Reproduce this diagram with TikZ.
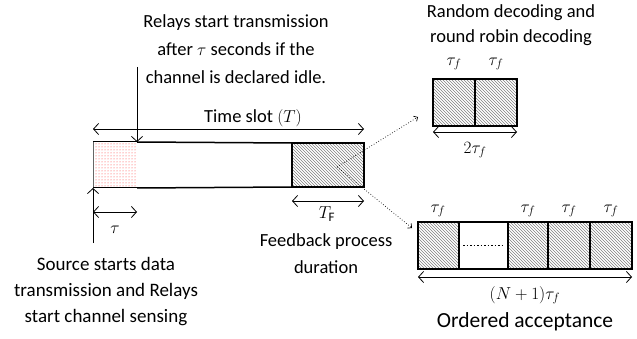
\documentclass[tikz,border=0pt]{standalone}
\usepackage{fontspec}
\setmainfont{Carlito}
\usetikzlibrary{arrows.meta,patterns,positioning}

\begin{document}
\begin{tikzpicture}[x=1pt,y=-1pt,>={Straight Barb[length=5pt,width=11pt]},every node/.style={inner sep=0,outer sep=0},lbl/.style={align=center,font=\fontsize{18.5}{28}\selectfont},hatch/.style={draw,line width=1.2pt,pattern=north west lines,pattern color=black!50,minimum height=47pt,anchor=north west},blank/.style={draw,line width=1.2pt,fill=white,minimum height=47pt,anchor=north west},dim/.style={<->,line width=0.8pt},pointer/.style={->,line width=0.8pt},zoomline/.style={->,dotted,line width=0.7pt,>={Straight Barb[length=3pt,width=6pt]}}]

\useasboundingbox (0,0) rectangle (637,339);

% time slot
\node [draw=black!60,line width=1pt,pattern=dots,pattern color=red!80,minimum width=44pt,minimum height=46pt,anchor=north west] (src) at (93,142) {};
\node [blank,minimum width=155pt,minimum height=46pt,draw=none] (slot) at (137,142) {};
\node [hatch,minimum width=72pt,minimum height=44pt,line width=1.5pt] (fb) at (292,143) {};
\draw [line width=1.5pt] (src.north east) -- (fb.north west);
\draw [line width=1.5pt] (src.south east) -- (fb.south west);
\draw [line width=1pt] (src.north west) -- (src.north east);
\draw [line width=1pt] (src.south west) -- (src.south east);

% random / round robin
\node [hatch,minimum width=42pt] (rr1) at (433,79) {};
\node [hatch,minimum width=42pt] (rr2) at (rr1.north east) {};
\draw [line width=2.2pt] (rr1.north west) rectangle (rr2.south east);

% ordered acceptance
\node [hatch,minimum width=41pt] (oa1) at (418,222) {};
\node [blank,minimum width=49pt] (oa2) at (oa1.north east) {};
\node [hatch,minimum width=40pt] (oa3) at (oa2.north east) {};
\node [hatch,minimum width=42pt] (oa4) at (oa3.north east) {};
\node [hatch,minimum width=42pt] (oa5) at (oa4.north east) {};
\draw [line width=2.5pt] (oa1.north west) rectangle (oa5.south east);
\draw [line width=1.5pt,dotted] ([xshift=4pt]oa2.west) -- ([xshift=-4pt]oa2.east);

% labels
\node [lbl] (relays) at (236,49) {Relays start transmission\\after $\tau$ seconds if the\\channel is declared idle.};
\node [lbl] (tslot) at (253,118) {Time slot $(T)$};
\node [lbl] (tau) at (115,230) {$\tau$};
\node [lbl,font=\fontsize{19}{26}\selectfont] (source) at (106,292) {Source starts data\\transmission and Relays\\start channel sensing};
\node [lbl] (tf) at (327,214) {$T_{\mathrm{F}}$};
\node [lbl,font=\fontsize{18.5}{27}\selectfont] (feedback) at (326,254) {Feedback process\\duration};
\node [lbl,font=\fontsize{18.5}{25}\selectfont] (rrtitle) at (511,25) {Random decoding and\\round robin decoding};
\node [lbl] (rrt1) at (454,64) {$\tau_f$};
\node [lbl] (rrt2) at (496,64) {$\tau_f$};
\node [lbl] (rrsum) at (475,150) {$2\tau_f$};
\node [lbl] (oat1) at (438,211) {$\tau_f$};
\node [lbl] (oat3) at (528,211) {$\tau_f$};
\node [lbl] (oat4) at (569,211) {$\tau_f$};
\node [lbl] (oat5) at (611,211) {$\tau_f$};
\node [lbl] (oasum) at (525,295) {$(N+1)\tau_f$};
\node [lbl,font=\fontsize{21.5}{25}\selectfont] (oatitle) at (525,322) {Ordered acceptance};

% arrows
\coordinate (relaytop) at (137,67);
\coordinate (srcbot) at (93,243);
\coordinate (fbc) at (337,167);
\coordinate (rrin) at (418,117);
\coordinate (oain) at (412,228);
\draw [pointer] (relaytop) -- (src.north east);
\draw [pointer] (srcbot) -- (src.south west);
\draw [dim] ([yshift=13pt]src.north west) -- ([yshift=14pt]fb.north east);
\draw [dim] ([yshift=-24pt]src.south west) -- ([yshift=-24pt]src.south east);
\draw [dim] ([yshift=-14pt]fb.south west) -- ([yshift=-14pt]fb.south east);
\draw [dim] ([yshift=-6pt]rr1.south west) -- ([yshift=-6pt]rr2.south east);
\draw [dim] ([yshift=-8pt]oa1.south west) -- ([yshift=-8pt]oa5.south east);
\draw [zoomline] (fbc) -- (rrin);
\draw [zoomline] (fbc) -- (oain);

\end{tikzpicture}
\end{document}
